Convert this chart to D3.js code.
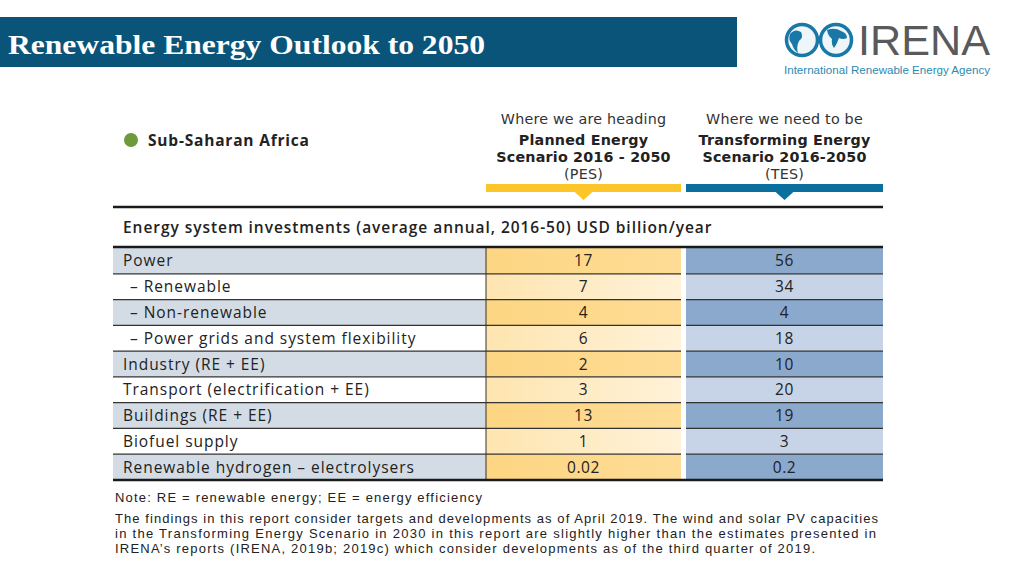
<!DOCTYPE html>
<html><head><meta charset="utf-8">
<script src="https://cdn.jsdelivr.net/npm/d3@7"></script>
<style>
html,body{margin:0;padding:0;background:#fff;}
svg{display:block;}
</style></head>
<body>
<svg id="c" width="1024" height="576"></svg>
<script>
const categories = ["Power","– Renewable","– Non-renewable","– Power grids and system flexibility","Industry (RE + EE)","Transport (electrification + EE)","Buildings (RE + EE)","Biofuel supply","Renewable hydrogen – electrolysers"];
const pesValues = [17,7,4,6,2,3,13,1,0.02];
const tesValues = [56,34,4,18,10,20,19,3,0.2];
const indented = [false,true,true,true,false,false,false,false,false];
const scenarioKeys = ["PES","TES"];
const scenarioSub = ["Where we are heading","Where we need to be"];
const scenarioName1 = ["Planned Energy","Transforming Energy"];
const scenarioName2 = ["Scenario 2016 - 2050","Scenario 2016-2050"];
const scenarioAbbr = ["(PES)","(TES)"];
const noteLine = "Note: RE = renewable energy; EE = energy efficiency";
const notes = ["The findings in this report consider targets and developments as of April 2019. The wind and solar PV capacities",
"in the Transforming Energy Scenario in 2030 in this report are slightly higher than the estimates presented in",
"IRENA’s reports (IRENA, 2019b; 2019c) which consider developments as of the third quarter of 2019."];
const noteWidths = [763,761,700];

const svg = d3.select("#c");
const sans = "'Open Sans', 'Noto Sans', sans-serif";

const defs = svg.append("defs");
const gr = defs.append("linearGradient").attr("id","pesLight").attr("x1","0").attr("x2","1").attr("y1","0").attr("y2","0");
gr.append("stop").attr("offset","0").attr("stop-color","#fee5b0");
gr.append("stop").attr("offset","1").attr("stop-color","#fff2d8");
const gr2 = defs.append("linearGradient").attr("id","pesDark").attr("x1","0").attr("x2","1").attr("y1","0").attr("y2","0");
gr2.append("stop").attr("offset","0").attr("stop-color","#fdd683");
gr2.append("stop").attr("offset","1").attr("stop-color","#fddc95");

// Title bar
svg.append("rect").attr("x",0).attr("y",17).attr("width",737).attr("height",50).attr("fill","#0b5479");
svg.append("text").attr("x",8).attr("y",54).attr("fill","#fff")
  .attr("font-family","'Liberation Serif', 'DejaVu Serif', serif").attr("font-weight","bold").attr("font-size",28)
  .attr("textLength",477).attr("lengthAdjust","spacingAndGlyphs")
  .text("Renewable Energy Outlook to 2050");

// Logo
const lg = svg.append("g");
[[802,40],[836,40]].forEach(([cx,cy])=>{
  lg.append("circle").attr("cx",cx).attr("cy",cy).attr("r",15.5).attr("fill","#eef6fa").attr("stroke","#1a78a8").attr("stroke-width",3.5);
});
lg.append("path").attr("d","M790,34 q5,-6 11,-2 q3,5 -2,9 q-3,6 -1,12 q-5,-4 -6,-9 q-4,-4 -2,-10z").attr("fill","#1a78a8");
lg.append("path").attr("d","M827,30 q8,-3 14,1 q6,2 6,7 q-4,2 -8,0 q-2,6 -5,10 q-3,-4 -2,-9 q-4,-3 -5,-9z").attr("fill","#1a78a8");
lg.append("text").attr("x",858).attr("y",55).attr("fill","#5a5a5a").attr("font-family","'Liberation Sans', Arial, sans-serif")
  .attr("font-size",42).attr("textLength",132).attr("lengthAdjust","spacingAndGlyphs").text("IRENA");
lg.append("text").attr("x",784).attr("y",74).attr("fill","#2b8ab3").attr("font-family","'Liberation Sans', Arial, sans-serif")
  .attr("font-size",10.5).attr("textLength",206).attr("lengthAdjust","spacingAndGlyphs").text("International Renewable Energy Agency");

// Region label
svg.append("circle").attr("cx",131).attr("cy",140).attr("r",7).attr("fill","#6e9a3c");
svg.append("text").attr("x",148).attr("y",146).attr("font-family",sans).attr("font-weight","bold").attr("font-size",15.5)
  .attr("letter-spacing",0.8).attr("fill","#222").text("Sub-Saharan Africa");

// Column layout
const tableLeft = 113, tableRight = 883;
const colX = d3.scaleOrdinal().domain(scenarioKeys).range([486,686]);
const colW = d3.scaleOrdinal().domain(scenarioKeys).range([195,197]);
const colCenter = k => colX(k) + colW(k)/2;

const hdr = svg.append("g").attr("font-family","'DejaVu Sans', sans-serif").attr("fill","#222").attr("text-anchor","middle").attr("font-size",14.3).attr("letter-spacing",0.2);
scenarioKeys.forEach((k,i)=>{
  const cx = colCenter(k);
  hdr.append("text").attr("x",cx).attr("y",124).attr("fill","#333").text(scenarioSub[i]);
  hdr.append("text").attr("x",cx).attr("y",145).attr("font-weight","bold").text(scenarioName1[i]);
  hdr.append("text").attr("x",cx).attr("y",162).attr("font-weight","bold").text(scenarioName2[i]);
  hdr.append("text").attr("x",cx).attr("y",179).attr("fill","#333").text(scenarioAbbr[i]);
});
const barColor = {PES:"#fcc62b",TES:"#0b6f9e"};
scenarioKeys.forEach(k=>{
  svg.append("rect").attr("x",colX(k)).attr("y",184).attr("width",colW(k)).attr("height",8).attr("fill",barColor[k]);
  const cx = colCenter(k);
  svg.append("path").attr("d",`M${cx-10},191 L${cx+10},191 L${cx},200 Z`).attr("fill",barColor[k]);
});

svg.append("line").attr("x1",tableLeft).attr("x2",tableRight).attr("y1",207).attr("y2",207).attr("stroke","#1a1a1a").attr("stroke-width",2.5);
svg.append("text").attr("x",123).attr("y",233).attr("font-family",sans).attr("font-weight","600").attr("font-size",15.5)
  .attr("letter-spacing",0.95).attr("fill","#222")
  .text("Energy system investments (average annual, 2016-50) USD billion/year");

// Rows
const y = d3.scaleBand().domain(categories).range([248,480]).paddingInner(0);
const rowsG = svg.append("g");
const fills = {
  label:["#d3dce5","#ffffff"],
  PES:["url(#pesDark)","url(#pesLight)"],
  TES:["#8aa9cd","#c7d4e7"]
};
const rows = rowsG.selectAll("g.row").data(categories).join("g").attr("class","row");
rows.each(function(c,i){
  const g = d3.select(this);
  const alt = i%2;
  const y0 = y(c), h = y.bandwidth();
  g.append("rect").attr("x",tableLeft).attr("y",y0).attr("width",486-tableLeft).attr("height",h).attr("fill",fills.label[alt]);
  scenarioKeys.forEach(k=>{
    g.append("rect").attr("x",colX(k)).attr("y",y0).attr("width",colW(k)).attr("height",h).attr("fill",fills[k][alt]);
  });
  g.append("text").attr("x",indented[i]?130:123).attr("y",y0+h/2+5.5).attr("font-family",sans).attr("font-size",15.5)
    .attr("letter-spacing",0.95).attr("fill","#222").text(c);
  const vals = {PES:pesValues[i],TES:tesValues[i]};
  scenarioKeys.forEach(k=>{
    g.append("text").attr("x",colCenter(k)).attr("y",y0+h/2+5.5).attr("text-anchor","middle").attr("font-family",sans).attr("font-size",15.5)
      .attr("letter-spacing",0.6).attr("fill","#222").text(String(vals[k]));
  });
});
// row separators
categories.slice(1).forEach(c=>{
  rowsG.append("line").attr("x1",tableLeft).attr("x2",681).attr("y1",y(c)).attr("y2",y(c)).attr("stroke","#333").attr("stroke-width",1.2);
  rowsG.append("line").attr("x1",686).attr("x2",tableRight).attr("y1",y(c)).attr("y2",y(c)).attr("stroke","#333").attr("stroke-width",1.2);
});
// white gap
rowsG.append("rect").attr("x",681).attr("y",247).attr("width",5).attr("height",233).attr("fill","#fff");
// vertical divider
rowsG.append("line").attr("x1",486).attr("x2",486).attr("y1",248).attr("y2",480).attr("stroke","#333").attr("stroke-width",1);
svg.append("line").attr("x1",tableLeft).attr("x2",tableRight).attr("y1",247).attr("y2",247).attr("stroke","#1a1a1a").attr("stroke-width",2.5);
svg.append("line").attr("x1",tableLeft).attr("x2",tableRight).attr("y1",480).attr("y2",480).attr("stroke","#1a1a1a").attr("stroke-width",2.5);

// Notes
const nt = svg.append("g").attr("font-family","'Liberation Sans', Arial, sans-serif").attr("font-size",13).attr("fill","#222");
nt.append("text").attr("x",115).attr("y",502).attr("textLength",367).attr("lengthAdjust","spacing").text(noteLine);
notes.forEach((t,i)=>{
  nt.append("text").attr("x",115).attr("y",523+i*15.2).attr("textLength",noteWidths[i]).attr("lengthAdjust","spacing").text(t);
});
</script>
</body></html>
